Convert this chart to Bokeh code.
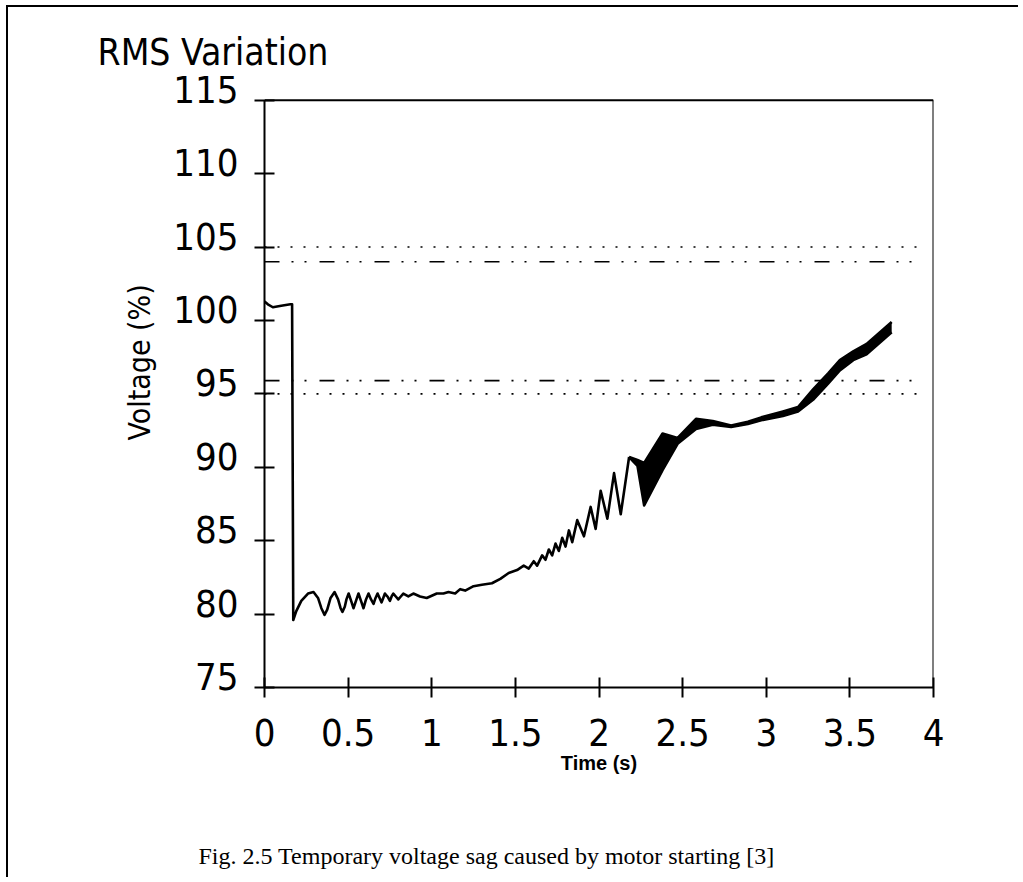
from bokeh.plotting import figure
from bokeh.models import LinearAxis, FixedTicker, Range1d, Title
from bokeh.embed import file_html
from bokeh.resources import INLINE

# ---- data ----
x_ticks = [0, 0.5, 1, 1.5, 2, 2.5, 3, 3.5, 4]
x_tick_labels = ["0", "0.5", "1", "1.5", "2", "2.5", "3", "3.5", "4"]
y_ticks = [75, 80, 85, 90, 95, 100, 105, 110, 115]
y_tick_labels = ["75", "80", "85", "90", "95", "100", "105", "110", "115"]

trace_t = [0.000, 0.02, 0.05, 0.10, 0.155, 0.165, 0.172, 0.19, 0.22, 0.26, 0.293, 0.32,
           0.34, 0.359, 0.375, 0.395, 0.419, 0.44, 0.455, 0.466, 0.48, 0.49, 0.503,
           0.518, 0.532, 0.547, 0.562, 0.577, 0.592, 0.607, 0.622, 0.637, 0.652, 0.664,
           0.676, 0.688, 0.70, 0.71, 0.72, 0.735, 0.75, 0.76, 0.77, 0.785, 0.80, 0.815,
           0.83, 0.86, 0.89, 0.93, 0.97, 1.03, 1.07, 1.10, 1.14, 1.17, 1.20, 1.25, 1.30,
           1.36, 1.41, 1.46, 1.51, 1.55, 1.58, 1.61, 1.63, 1.66, 1.68, 1.70, 1.72, 1.74,
           1.76, 1.78, 1.80, 1.82, 1.84, 1.87, 1.91, 1.95, 1.98, 2.01, 2.05, 2.09, 2.13,
           2.18]
trace_v = [101.3, 101.1, 100.9, 101.0, 101.1, 101.1, 79.6, 80.2, 80.9, 81.4, 81.5, 81.1,
           80.4, 79.95, 80.3, 81.1, 81.5, 81.0, 80.4, 80.15, 80.5, 81.0, 81.4,
           80.9, 80.4, 80.9, 81.4, 80.9, 80.4, 81.0, 81.4, 81.0, 80.7, 81.1,
           81.4, 81.1, 80.8, 81.1, 81.4, 81.2, 80.9, 81.2, 81.4, 81.2, 81.0, 81.2,
           81.4, 81.2, 81.4, 81.2, 81.1, 81.4, 81.4, 81.5, 81.4, 81.7, 81.6, 81.9, 82.0,
           82.1, 82.4, 82.8, 83.0, 83.3, 83.1, 83.6, 83.3, 84.0, 83.7, 84.4, 84.0, 84.8,
           84.3, 85.2, 84.6, 85.7, 84.9, 86.4, 85.3, 87.3, 85.8, 88.4, 86.5, 89.6, 86.8,
           90.7]

band_t = [2.18, 2.23, 2.27, 2.38, 2.47, 2.58, 2.68, 2.79, 2.89, 2.97, 3.10, 3.19,
          3.28, 3.37, 3.44, 3.52, 3.60, 3.75]
band_hi = [90.7, 90.5, 90.3, 92.3, 92.0, 93.3, 93.15, 92.85, 93.1, 93.4, 93.8, 94.1,
           95.3, 96.4, 97.3, 97.9, 98.4, 99.9]
band_lo = [90.7, 90.1, 87.4, 89.8, 91.6, 92.6, 92.9, 92.75, 92.95, 93.2, 93.5, 93.8,
           94.6, 95.7, 96.6, 97.3, 97.7, 99.2]

limit_t = [0.0, 3.94]
limit_dotted = [105.0, 95.0]
limit_dashdot = [104.0, 95.9]

FONT = "DejaVu Sans Condensed, Liberation Sans"
LABEL_SHIFT = 0.75   # tick labels sit a little above their tick, as in the scan

p = figure(width=1012, height=872,
           x_range=Range1d(x_ticks[0], x_ticks[-1]),
           y_range=Range1d(y_ticks[0], y_ticks[-1] + 0.8),
           output_backend="svg", toolbar_location=None,
           min_border_left=256, min_border_right=87, min_border_top=81, min_border_bottom=192)
p.margin = (5, 0, 0, 6)
p.styles = {"border-top": "2px solid black", "border-left": "2px solid black",
            "border-right": "none", "border-bottom": "none"}
p.background_fill_color = "white"
p.border_fill_color = "white"
p.grid.visible = False
p.outline_line_color = None

# box: top and right edges
p.segment(x0=[x_ticks[0], x_ticks[-1]], y0=[y_ticks[-1], y_ticks[0]],
          x1=[x_ticks[-1], x_ticks[-1]], y1=[y_ticks[-1], y_ticks[-1]],
          line_color="black", line_width=2)

# ---- axes ----
def style_ticks(ax):
    ax.axis_line_width = 2
    ax.axis_line_color = "black"
    ax.major_tick_line_width = 2
    ax.major_tick_line_color = "black"
    ax.major_tick_in = 10
    ax.major_tick_out = 10
    ax.minor_tick_line_color = None

xa = p.xaxis[0]
style_ticks(xa)
xa.ticker = FixedTicker(ticks=x_ticks)
xa.major_label_overrides = {t: l for t, l in zip(x_ticks, x_tick_labels)}
xa.major_label_text_font = FONT
xa.major_label_text_font_size = "38px"
xa.major_label_text_color = "black"
xa.major_label_standoff = 21
xa.axis_label = "Time (s)"
xa.axis_label_text_font = "Liberation Sans"
xa.axis_label_text_font_style = "bold"
xa.axis_label_text_font_size = "20px"
xa.axis_label_text_color = "black"
xa.axis_label_standoff = 3

ya = p.yaxis[0]
style_ticks(ya)
ya.ticker = FixedTicker(ticks=y_ticks)
ya.bounds = (y_ticks[0], y_ticks[-1])
ya.major_label_text_font_size = "1px"
ya.major_label_text_color = None
ya.major_label_standoff = 0

lab_ticks = [v + LABEL_SHIFT for v in y_ticks]
ylab = LinearAxis(ticker=FixedTicker(ticks=lab_ticks),
                  major_label_overrides={t: l for t, l in zip(lab_ticks, y_tick_labels)},
                  axis_line_color=None, major_tick_line_color=None, minor_tick_line_color=None,
                  major_tick_in=0, major_tick_out=0, major_label_standoff=16,
                  major_label_text_font=FONT, major_label_text_font_size="38px",
                  major_label_text_color="black")
p.add_layout(ylab, "left")

p.add_layout(Title(text="Voltage (%)", align="left", offset=247, vertical_align="bottom",
                   standoff=28, text_font=FONT, text_font_size="30px",
                   text_font_style="normal", text_color="black"), "left")

p.add_layout(Title(text="RMS Variation", align="left", offset=-167, vertical_align="bottom",
                   standoff=30, text_font=FONT, text_font_size="37px",
                   text_font_style="normal", text_color="black"), "above")

# spacer between the axis title and the figure caption
spacer = LinearAxis(ticker=FixedTicker(ticks=[]), axis_line_color=None,
                    major_tick_line_color=None, minor_tick_line_color=None,
                    major_tick_in=0, major_tick_out=0, major_label_text_font_size="1px",
                    major_label_text_color=None,
                    axis_label=" ", axis_label_text_font_size="2px", axis_label_standoff=61)
p.add_layout(spacer, "below")

p.add_layout(Title(text="Fig. 2.5 Temporary voltage sag caused by motor starting [3]",
                   align="left", offset=-66, vertical_align="top", standoff=0,
                   text_font="Liberation Serif", text_font_size="24px",
                   text_font_style="normal", text_color="black"), "below")

# ---- reference limit lines ----
for lv in limit_dotted:
    p.line(limit_t, [lv, lv], line_color="black", line_width=1.6, line_dash="2 11")
for lv in limit_dashdot:
    p.line(limit_t, [lv, lv], line_color="black", line_width=1.6, line_dash="15 12 2 11 2 13")

# ---- RMS trace ----
p.line(trace_t, trace_v, line_color="black", line_width=2.6, line_join="round")
p.varea(x=band_t, y1=band_lo, y2=band_hi, fill_color="black")
p.line(band_t, band_hi, line_color="black", line_width=2.6, line_join="round")
p.line(band_t, band_lo, line_color="black", line_width=2.6, line_join="round")

open("out.html", "w").write(file_html(p, INLINE))
